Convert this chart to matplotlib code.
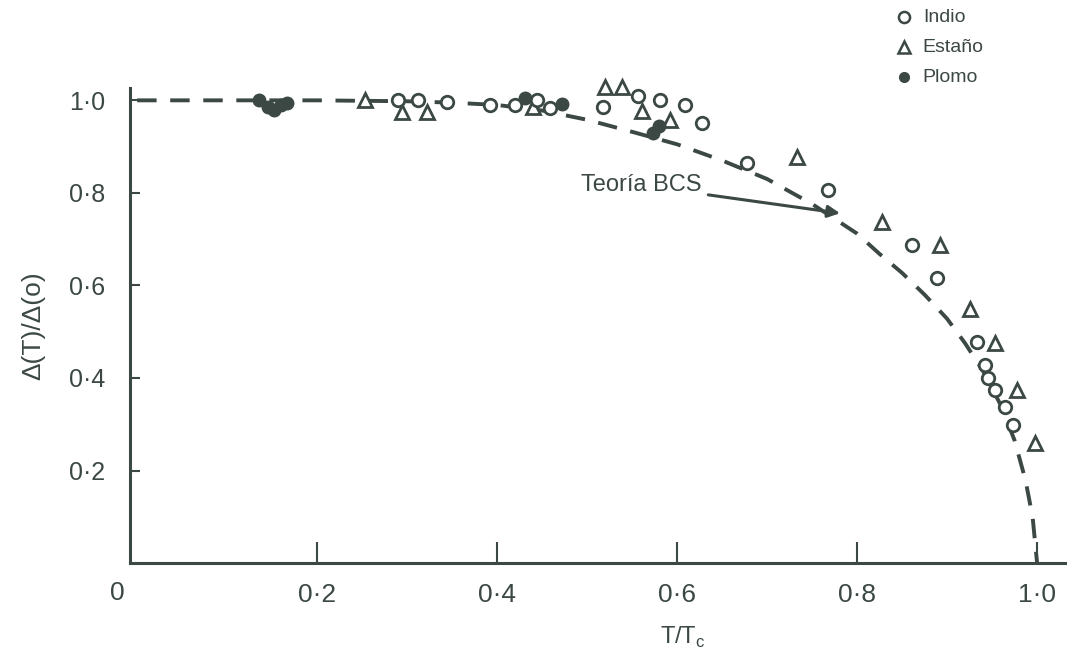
import numpy as np
import matplotlib.pyplot as plt

plt.rcParams['font.family'] = ['Liberation Sans', 'DejaVu Sans']
ink = '#3b4843'

# Indio (open circles)
indio_x = [0.29, 0.312, 0.344, 0.392, 0.42, 0.444, 0.459, 0.518, 0.556, 0.581,
           0.609, 0.628, 0.678, 0.768, 0.861, 0.889, 0.933, 0.942, 0.946, 0.953,
           0.964, 0.973]
indio_y = [1.0, 1.0, 0.996, 0.99, 0.99, 1.0, 0.983, 0.985, 1.01, 1.0,
           0.99, 0.952, 0.864, 0.806, 0.687, 0.616, 0.477, 0.428, 0.40, 0.374,
           0.337, 0.298]

# Estaño (open triangles)
estano_x = [0.253, 0.294, 0.322, 0.44, 0.52, 0.539, 0.561, 0.592, 0.733, 0.828,
            0.892, 0.926, 0.953, 0.978, 0.998]
estano_y = [1.0, 0.974, 0.974, 0.985, 1.028, 1.028, 0.978, 0.957, 0.877, 0.737,
            0.687, 0.55, 0.475, 0.374, 0.259]

# Plomo (filled circles)
plomo_x = [0.135, 0.145, 0.152, 0.16, 0.167, 0.431, 0.472, 0.573, 0.58]
plomo_y = [1.0, 0.985, 0.98, 0.99, 0.995, 1.004, 0.993, 0.93, 0.945]

# BCS theory curve
bcs_x = [0.0, 0.1, 0.2, 0.3, 0.35, 0.4, 0.45, 0.5, 0.55, 0.6, 0.65, 0.7, 0.75,
         0.8, 0.825, 0.85, 0.875, 0.9, 0.92, 0.94, 0.96, 0.975, 0.987, 0.995, 1.0]
bcs_y = [1.0, 1.0, 1.0, 0.998, 0.995, 0.99, 0.978, 0.958, 0.932, 0.905, 0.87,
         0.83, 0.776, 0.712, 0.668, 0.627, 0.58, 0.528, 0.475, 0.415, 0.34,
         0.265, 0.18, 0.1, 0.0]

xticks = [0.2, 0.4, 0.6, 0.8, 1.0]
xticklabels = ['0·2', '0·4', '0·6', '0·8', '1·0']
yticks = [0.2, 0.4, 0.6, 0.8, 1.0]
yticklabels = ['0·2', '0·4', '0·6', '0·8', '1·0']

fig = plt.figure(figsize=(10.67, 6.64), dpi=100)
ax = fig.add_axes([0.1218, 0.152, 0.878, 0.715])

ax.plot(bcs_x, bcs_y, color=ink, lw=2.8, dashes=(5, 3.5), zorder=1)
ax.plot(indio_x, indio_y, 'o', ms=9, mfc='white', mec=ink, mew=2, zorder=3,
        clip_on=False)
ax.plot(estano_x, estano_y, '^', ms=10, mfc='white', mec=ink, mew=2, zorder=2,
        clip_on=False)
ax.plot(plomo_x, plomo_y, 'o', ms=9, color=ink, zorder=4, clip_on=False)

ax.set_xlim(-0.008, 1.033)
ax.set_ylim(0, 1.026)
for s in ['top', 'right']:
    ax.spines[s].set_visible(False)
for s in ['left', 'bottom']:
    ax.spines[s].set_linewidth(2.2)
    ax.spines[s].set_color(ink)

ax.set_xticks(xticks)
ax.set_xticklabels(xticklabels)
ax.set_yticks(yticks)
ax.set_yticklabels(yticklabels)
ax.tick_params(axis='x', direction='in', length=15, width=1.5, color=ink,
               labelsize=19, labelcolor=ink, pad=14)
ax.tick_params(axis='y', direction='in', length=7, width=1.5, color=ink,
               labelsize=18, labelcolor=ink, pad=18)
ax.text(-0.022, -0.064, '0', transform=ax.transData, ha='center', va='center',
        fontsize=19, color=ink, clip_on=False)

ax.set_xlabel('T/T$_\\mathregular{c}$', fontsize=17, color=ink)
ax.xaxis.set_label_coords(0.59, -0.13)
ax.set_ylabel('Δ(T)/Δ(o)', fontsize=19, color=ink)
ax.yaxis.set_label_coords(-0.09, 0.5)

ax.annotate('Teoría BCS', xy=(0.781, 0.756), xytext=(0.627, 0.816),
            ha='right', va='center', fontsize=17, color=ink,
            arrowprops=dict(arrowstyle='-|>', color=ink, lw=2.2,
                            mutation_scale=18, shrinkA=3, shrinkB=0))

# legend drawn as in the original figure
leg_x = 0.852
ax.plot([leg_x], [1.18], 'o', ms=8, mfc='white', mec=ink, mew=1.8, clip_on=False)
ax.plot([leg_x], [1.115], '^', ms=9, mfc='white', mec=ink, mew=1.8, clip_on=False)
ax.plot([leg_x], [1.05], 'o', ms=7, color=ink, clip_on=False)
for yy, lab in zip([1.18, 1.115, 1.05], ['Indio', 'Estaño', 'Plomo']):
    ax.text(leg_x + 0.021, yy, lab, fontsize=14, color=ink, va='center')

fig.savefig('out.png', dpi=100)
